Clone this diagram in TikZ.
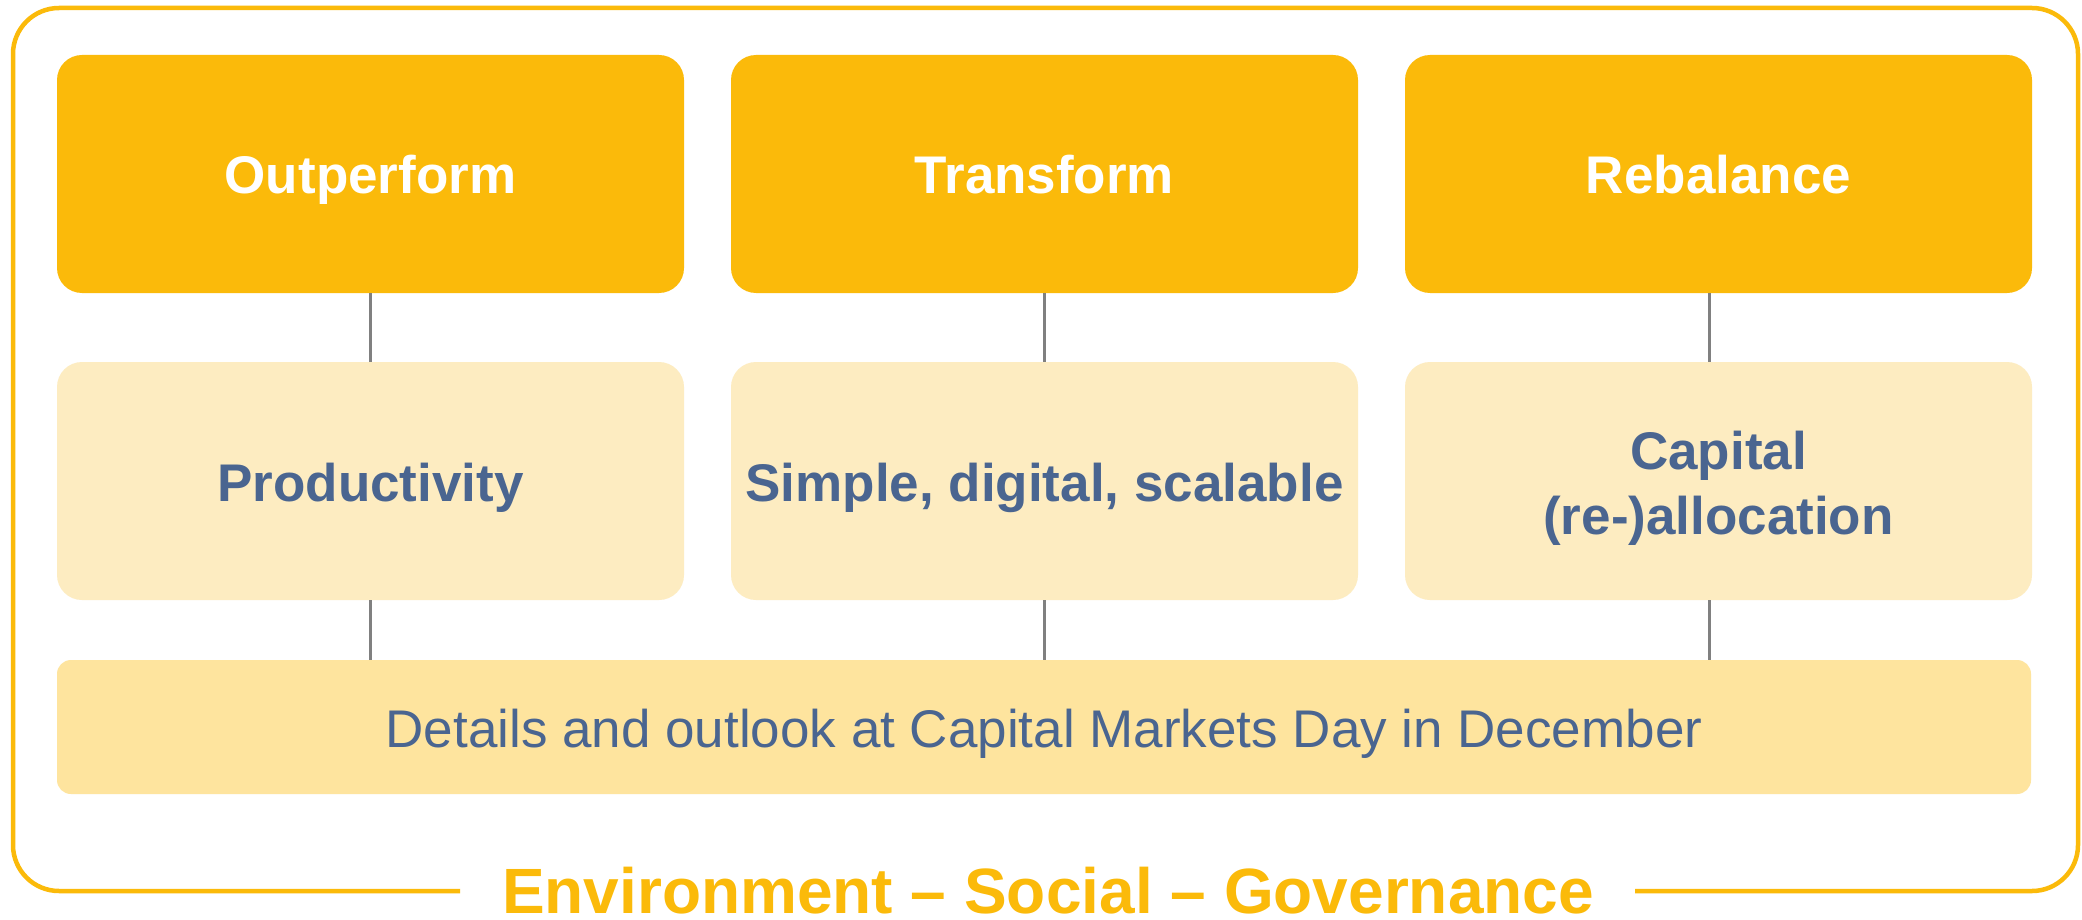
\documentclass[tikz,border=0pt]{standalone}
\usepackage{fontspec}
\setmainfont{Liberation Sans}
\definecolor{ylw}{HTML}{FBBA0A}
\definecolor{lightbox}{HTML}{FDECC1}
\definecolor{midbox}{HTML}{FEE49E}
\definecolor{txtblue}{HTML}{4A6590}
\definecolor{gry}{HTML}{808080}
\begin{document}
\begin{tikzpicture}[x=1pt,y=-1pt,
  topbox/.style={fill=ylw, draw=none, rounded corners=25pt, minimum width=627pt, minimum height=238pt, inner sep=0pt},
  midbox/.style={fill=lightbox, draw=none, rounded corners=25pt, minimum width=627pt, minimum height=238pt, inner sep=0pt},
  botbox/.style={fill=midbox, draw=none, rounded corners=14pt, minimum width=1974pt, minimum height=134pt, inner sep=0pt},
  toptext/.style={anchor=base, text=white, font=\fontsize{53}{64}\selectfont\bfseries, inner sep=0pt},
  midtext/.style={anchor=base, text=txtblue, font=\fontsize{53}{64}\selectfont\bfseries, inner sep=0pt},
  bottext/.style={anchor=base, text=txtblue, font=\fontsize{53}{64}\selectfont, inner sep=0pt},
  esgtext/.style={anchor=base, text=ylw, font=\fontsize{64}{76}\selectfont\bfseries, inner sep=0pt},
  link/.style={draw=gry, line width=3pt}]
\useasboundingbox (0,0) rectangle (2082,920);
\fill[white] (0,0) rectangle (2082,920);
% outer frame
\coordinate (fl) at (460,891);
\coordinate (fr) at (1635,891);
\draw[ylw, line width=4.5pt, rounded corners=46pt] (fl) -- (13,891) -- (13,8) -- (2078,8) -- (2078,891) -- (fr);
% boxes
\node[topbox] (t1) at (370.5,174) {};
\node[topbox] (t2) at (1044.5,174) {};
\node[topbox] (t3) at (1718.5,174) {};
\node[midbox] (m1) at (370.5,481) {};
\node[midbox] (m2) at (1044.5,481) {};
\node[midbox] (m3) at (1718.5,481) {};
\node[botbox] (b) at (1044,727) {};
% connectors
\draw[link] (t1.south) -- (m1.north);
\draw[link] (t2.south) -- (m2.north);
\draw[link] ([xshift=-9.5pt]t3.south) -- ([xshift=-9.5pt]m3.north);
\draw[link] (m1.south) -- (m1.south |- b.north);
\draw[link] (m2.south) -- (m2.south |- b.north);
\draw[link] ([xshift=-9.5pt]m3.south) -- ([xshift=-9.5pt]m3.south |- b.north);
% texts
\node[toptext] (tt1) at (370.5,194) {Outperform};
\node[toptext] (tt2) at (1044.5,194) {Transform};
\node[toptext] (tt3) at (1718.5,194) {Rebalance};
\node[midtext] (mt1) at (370.5,501) {Productivity};
\node[midtext] (mt2) at (1044.5,501) {Simple, digital, scalable};
\node[midtext] (mt3a) at (1718.5,469) {Capital};
\node[midtext] (mt3b) at (1718.5,534) {(re-)allocation};
\node[bottext] (bt) at (1044,747.5) {Details and outlook at Capital Markets Day in December};
\node[esgtext] (esg) at (1048,913) {Environment – Social – Governance};
\end{tikzpicture}
\end{document}
